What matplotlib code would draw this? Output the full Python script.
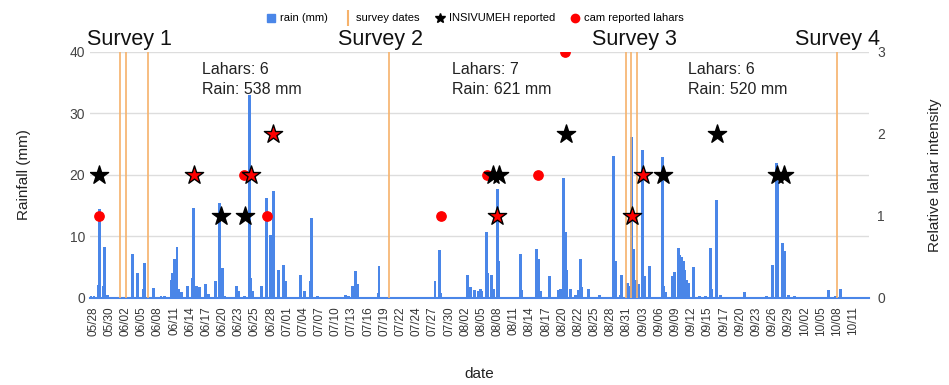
import matplotlib
matplotlib.use("Agg")
import matplotlib.pyplot as plt
from matplotlib.lines import Line2D
import numpy as np

plt.rcParams['font.family'] = ['Liberation Sans', 'DejaVu Sans']

# x axis: evenly spaced category labels (position = label index)
tick_labels = ["05/28", "05/30", "06/02", "06/05", "06/08", "06/11", "06/14", "06/17",
               "06/20", "06/23", "06/25", "06/28", "07/01", "07/04", "07/07", "07/10",
               "07/13", "07/16", "07/19", "07/22", "07/24", "07/27", "07/30", "08/02",
               "08/05", "08/08", "08/11", "08/14", "08/17", "08/20", "08/22", "08/25",
               "08/28", "08/31", "09/03", "09/06", "09/09", "09/12", "09/15", "09/17",
               "09/20", "09/23", "09/26", "09/29", "10/02", "10/05", "10/08", "10/11"]

# rain (mm): position on the label-index scale, value
rain_pos = [-0.14, 0.05, 0.31, 0.37, 0.62, 0.68, 0.89, 2.44, 2.75, 3.09, 3.15, 3.75, 4.19, 4.43,
            4.81, 4.91, 5.05, 5.18, 5.30, 5.47, 5.84, 6.15, 6.21, 6.39, 6.60, 6.95, 7.11, 7.57,
            7.79, 7.98, 8.14, 8.87, 8.97, 9.38, 9.65, 9.75, 9.86, 10.41, 10.72, 10.97, 11.13,
            11.44, 11.75, 11.90, 12.84, 13.09, 13.44, 13.51, 13.85, 15.61, 15.81, 16.02, 16.23,
            16.34, 17.62, 17.67, 21.13, 21.42, 21.50, 23.15, 23.31, 23.56, 23.81, 23.92, 24.02,
            24.33, 24.41, 24.61, 24.74, 24.97, 25.05, 26.39, 26.49, 27.42, 27.52, 27.67, 28.19,
            28.74, 28.91, 29.07, 29.18, 29.24, 29.49, 29.80, 30.00, 30.14, 30.21, 30.62, 31.28,
            32.19, 32.27, 32.58, 32.68, 33.01, 33.09, 33.30, 33.38, 33.46, 33.61, 33.69, 33.98,
            34.06, 34.37, 35.19, 35.29, 35.36, 35.82, 35.94, 36.18, 36.28, 36.39, 36.49, 36.59,
            36.70, 36.80, 37.11, 37.46, 37.83, 38.16, 38.22, 38.53, 38.76, 40.26, 41.65, 41.97,
            42.26, 42.34, 42.63, 42.72, 42.98, 43.38, 45.45, 45.87, 46.18, 47.41]
rain_mm = [0.3, 0.3, 2.1, 14.5, 2.0, 8.3, 0.5, 7.1, 4.1, 1.5, 5.7, 1.6, 0.4, 0.3,
           2.9, 4.1, 6.3, 8.3, 1.4, 1.0, 1.9, 3.2, 14.7, 2.0, 1.8, 2.2, 0.6, 2.8,
           15.5, 4.8, 0.4, 2.0, 1.2, 0.3, 33.0, 3.3, 1.2, 1.9, 16.3, 10.2, 17.4,
           4.6, 5.4, 2.8, 3.8, 1.2, 2.8, 13.0, 0.4, 0.5, 0.4, 2.0, 4.4,
           2.2, 0.8, 5.2, 2.8, 7.8, 0.8, 3.7, 1.8, 1.3, 1.1, 1.4, 1.2,
           10.7, 4.0, 3.7, 1.5, 17.7, 6.0, 7.1, 1.3, 8.0, 6.4, 1.2, 3.5,
           1.3, 1.4, 19.5, 10.7, 4.5, 1.5, 0.5, 1.3, 6.3, 1.8, 1.4, 0.5,
           23.1, 6.0, 0.5, 3.8, 2.5, 2.0, 26.2, 8.0, 1.9, 3.0, 2.3, 24.1,
           3.6, 5.2, 23.0, 2.0, 1.0, 3.5, 4.3, 8.1, 7.0, 6.6, 6.0, 4.6,
           3.0, 2.4, 5.0, 0.4, 0.4, 8.1, 1.5, 16.0, 0.5, 1.0, 0.4, 5.3,
           21.9, 19.0, 9.0, 7.6, 0.5, 0.3, 1.3, 0.4, 1.5, 0.2]

# survey dates
survey_pos = [1.65, 2.02, 3.38, 18.31, 32.93, 33.24, 33.61, 45.97]

# INSIVUMEH reported lahars (relative intensity)
insiv_pos = [0.37, 7.88, 9.40, 24.70, 25.11, 29.22, 35.25, 38.55, 42.30, 42.72]
insiv_int = [1.5, 1.0, 1.0, 1.5, 1.5, 2.0, 1.5, 2.0, 1.5, 1.5]

# cam reported lahars (relative intensity)
cam_pos = [0.37, 9.34, 10.72, 21.48, 24.33, 27.48, 29.18]
cam_int = [1.0, 1.5, 1.0, 1.0, 1.5, 1.5, 3.0]

# reported by both
both_pos = [6.23, 9.73, 11.09, 24.95, 33.30, 34.01]
both_int = [1.5, 1.5, 2.0, 1.0, 1.0, 1.5]

survey_names = ["Survey 1", "Survey 2", "Survey 3", "Survey 4"]
survey_name_pos = [-0.38, 15.15, 30.85, 43.4]
period_text = ["Lahars: 6\nRain: 538 mm", "Lahars: 7\nRain: 621 mm", "Lahars: 6\nRain: 520 mm"]
period_text_pos = [6.7, 22.2, 36.8]

BLUE = "#4a86e8"
ORANGE = "#f6b26b"

fig = plt.figure(figsize=(9.49, 3.85), dpi=100)
ax = fig.add_axes([0.0948, 0.226, 0.821, 0.639])

for y in [10, 20, 30, 40]:
    ax.axhline(y, color="#dddddd", lw=1.0, zorder=0)

ax.bar(rain_pos, rain_mm, width=0.18, color=BLUE, zorder=2, linewidth=0)
for p in survey_pos:
    ax.axvline(p, color=ORANGE, lw=1.2, zorder=3)

ax.set_xlim(-0.2, 47.97)
ax.set_ylim(0, 40)
ax.set_xticks(range(len(tick_labels)))
ax.set_xticklabels(tick_labels, rotation=90, fontsize=8.5, color="#333333")
ax.set_yticks([0, 10, 20, 30, 40])
ax.tick_params(axis='both', length=0, labelsize=10, colors="#444444")
ax.tick_params(axis='x', pad=6, labelsize=8.5, colors="#333333")
for s in ["top", "left", "right"]:
    ax.spines[s].set_visible(False)
ax.spines["bottom"].set_color(BLUE)
ax.spines["bottom"].set_linewidth(1.5)
ax.set_ylabel("Rainfall (mm)", fontsize=11, color="#222222", labelpad=28)
ax.set_xlabel("date", fontsize=11, color="#222222", labelpad=22)

ax2 = ax.twinx()
ax2.set_ylim(0, 3)
ax2.set_yticks([0, 1, 2, 3])
ax2.tick_params(axis='y', length=0, labelsize=10, colors="#444444", pad=6)
for s in ["top", "left", "right", "bottom"]:
    ax2.spines[s].set_visible(False)
ax2.set_ylabel("Relative lahar intensity", fontsize=11, color="#222222", labelpad=31)

cam = ax2.scatter(cam_pos, cam_int, s=45, marker="o", color="#ff0000", zorder=5)
cam.set_clip_on(True)
cam.set_clip_box(ax2.bbox)
ax2.scatter(insiv_pos, insiv_int, s=190, marker="*", color="black", zorder=6)
ax2.scatter(both_pos, both_int, s=190, marker="*", facecolor="#ff0000",
            edgecolor="black", linewidth=1.0, zorder=7)

for name, p in zip(survey_names, survey_name_pos):
    ax.text(p, 40.3, name, fontsize=15.5, color="#111111", ha="left", va="bottom")
for t, p in zip(period_text, period_text_pos):
    ax.text(p, 38.3, t, fontsize=11.5, color="#222222", ha="left", va="top", linespacing=1.35)

handles = [
    Line2D([], [], marker="s", color=BLUE, linestyle="none", markersize=6),
    Line2D([], [], marker="|", color=ORANGE, linestyle="none", markersize=11, markeredgewidth=1.5),
    Line2D([], [], marker="*", color="black", linestyle="none", markersize=7),
    Line2D([], [], marker="o", color="#ff0000", linestyle="none", markersize=6),
]
labels = ["rain (mm)", "survey dates", "INSIVUMEH reported", "cam reported lahars"]
fig.legend(handles, labels, loc="center", bbox_to_anchor=(0.5, 0.952), ncol=4,
           frameon=False, fontsize=8, handletextpad=0.3, columnspacing=1.3,
           handlelength=1.0)

fig.savefig("out.png", dpi=100)
